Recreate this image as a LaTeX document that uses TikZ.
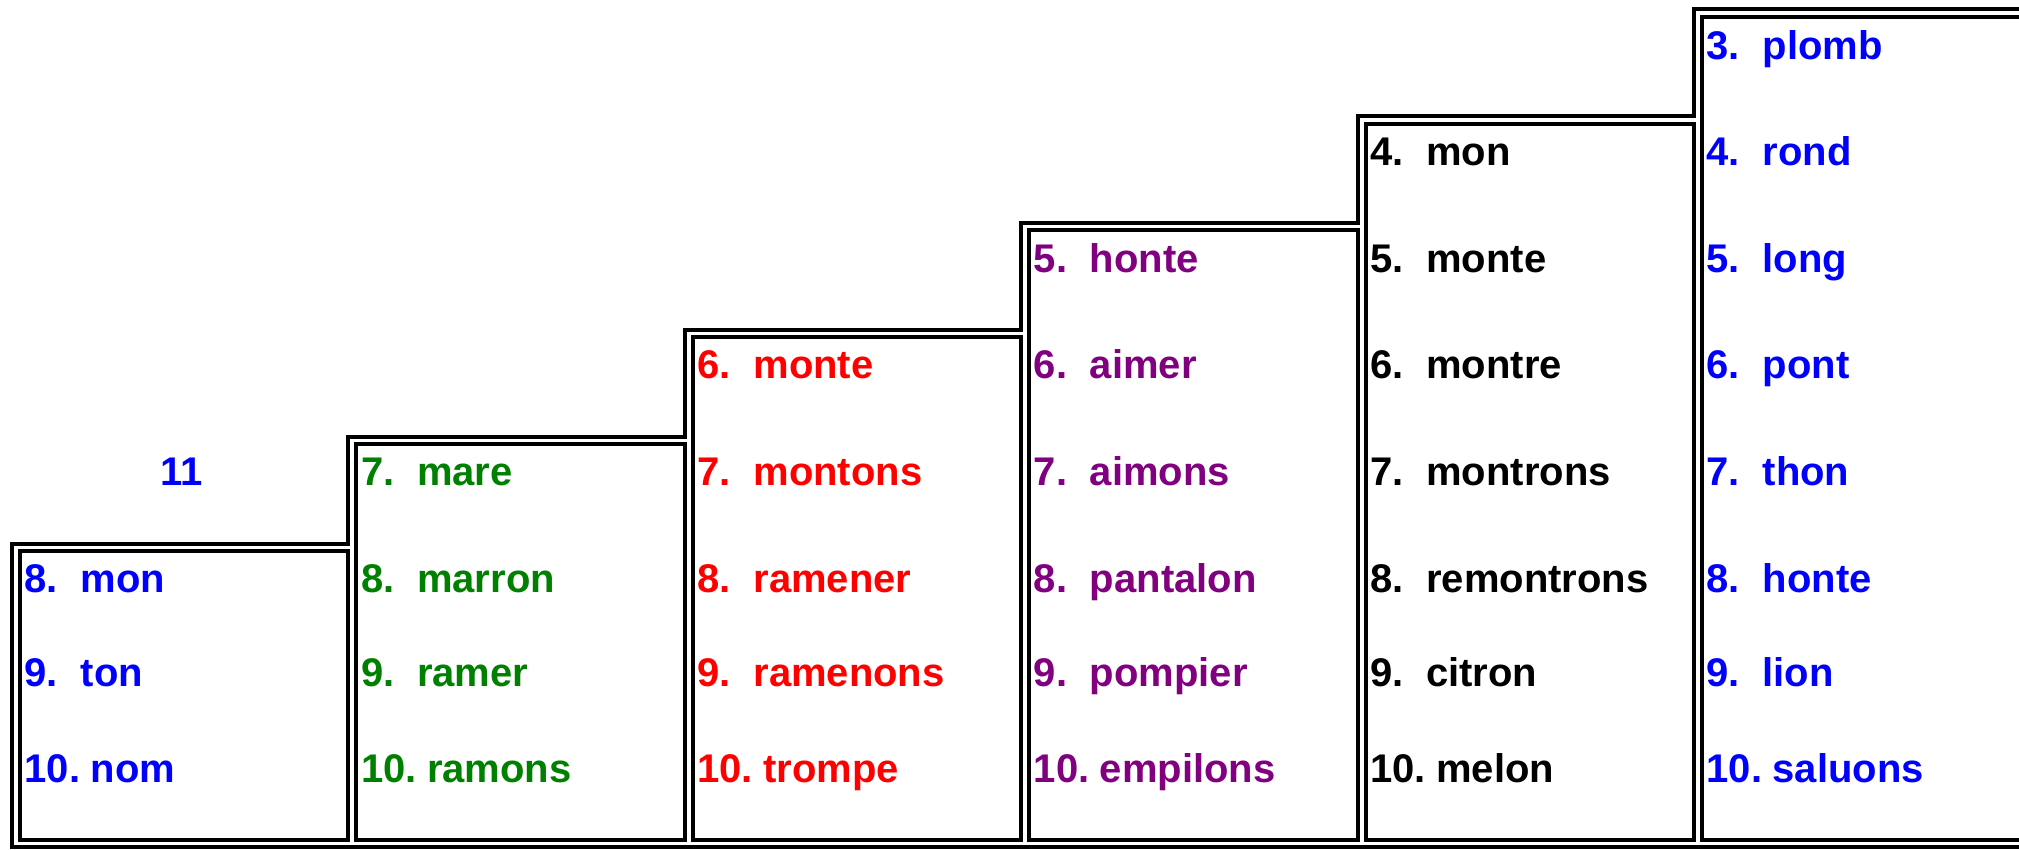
\documentclass[tikz,border=0pt]{standalone}
\usepackage{fontspec}
\setmainfont{Liberation Sans}
\definecolor{hgreen}{RGB}{0,128,0}
\definecolor{hpurple}{RGB}{128,0,128}
\definecolor{hblue}{RGB}{0,0,255}
\definecolor{hred}{RGB}{255,0,0}
\newcommand\rowbase[1]{\ifcase#1 0\or 0\or 0\or 59.5\or 165.5\or 272\or 378.5\or 485\or 592\or 686\or 782.5\fi}
\newcommand\entry[4]{%
  \pgfmathsetmacro\ex{20+336.4*#1+4.5}%
  \edef\ey{\rowbase{#2}}%
  \node[entrytext, text=#4] (c#1n#2) at (\ex,\ey) {\ifnum#2<10 \makebox[56pt][l]{#2.}\else\makebox[66pt][l]{#2.}\fi#3};}
\begin{document}
\begin{tikzpicture}[x=1pt,y=-1pt,
  frame/.style={line width=4.6pt, line join=miter, draw=black},
  entrytext/.style={anchor=base west, inner sep=0pt, font=\fontsize{40}{46}\selectfont\bfseries}]
\useasboundingbox (0,0) rectangle (2019,849);
\clip (0,0) rectangle (2019,849);
% outer staircase outline
\draw[frame] (2040,847) -- (12,847) -- (12,544) -- (348,544) -- (348,437)
  -- (685,437) -- (685,330) -- (1021,330) -- (1021,223) -- (1358,223)
  -- (1358,116) -- (1694,116) -- (1694,9) -- (2040,9);
% inner cell boxes
\draw[frame] (20,551) rectangle (348,840);
\draw[frame] (356,444) rectangle (685,840);
\draw[frame] (693,337) rectangle (1021,840);
\draw[frame] (1029,230) rectangle (1358,840);
\draw[frame] (1366,124) rectangle (1694,840);
\draw[frame] (1702,17) rectangle (2040,840);
% column 0
\node[entrytext, anchor=base, text=hblue] (c0top) at (182,485) {11};
\entry{0}{8}{mon}{hblue}
\entry{0}{9}{ton}{hblue}
\entry{0}{10}{nom}{hblue}
% column 1
\entry{1}{7}{mare}{hgreen}
\entry{1}{8}{marron}{hgreen}
\entry{1}{9}{ramer}{hgreen}
\entry{1}{10}{ramons}{hgreen}
% column 2
\entry{2}{6}{monte}{hred}
\entry{2}{7}{montons}{hred}
\entry{2}{8}{ramener}{hred}
\entry{2}{9}{ramenons}{hred}
\entry{2}{10}{trompe}{hred}
% column 3
\entry{3}{5}{honte}{hpurple}
\entry{3}{6}{aimer}{hpurple}
\entry{3}{7}{aimons}{hpurple}
\entry{3}{8}{pantalon}{hpurple}
\entry{3}{9}{pompier}{hpurple}
\entry{3}{10}{empilons}{hpurple}
% column 4
\entry{4}{4}{mon}{black}
\entry{4}{5}{monte}{black}
\entry{4}{6}{montre}{black}
\entry{4}{7}{montrons}{black}
\entry{4}{8}{remontrons}{black}
\entry{4}{9}{citron}{black}
\entry{4}{10}{melon}{black}
% column 5
\entry{5}{3}{plomb}{hblue}
\entry{5}{4}{rond}{hblue}
\entry{5}{5}{long}{hblue}
\entry{5}{6}{pont}{hblue}
\entry{5}{7}{thon}{hblue}
\entry{5}{8}{honte}{hblue}
\entry{5}{9}{lion}{hblue}
\entry{5}{10}{saluons}{hblue}
\end{tikzpicture}
\end{document}
